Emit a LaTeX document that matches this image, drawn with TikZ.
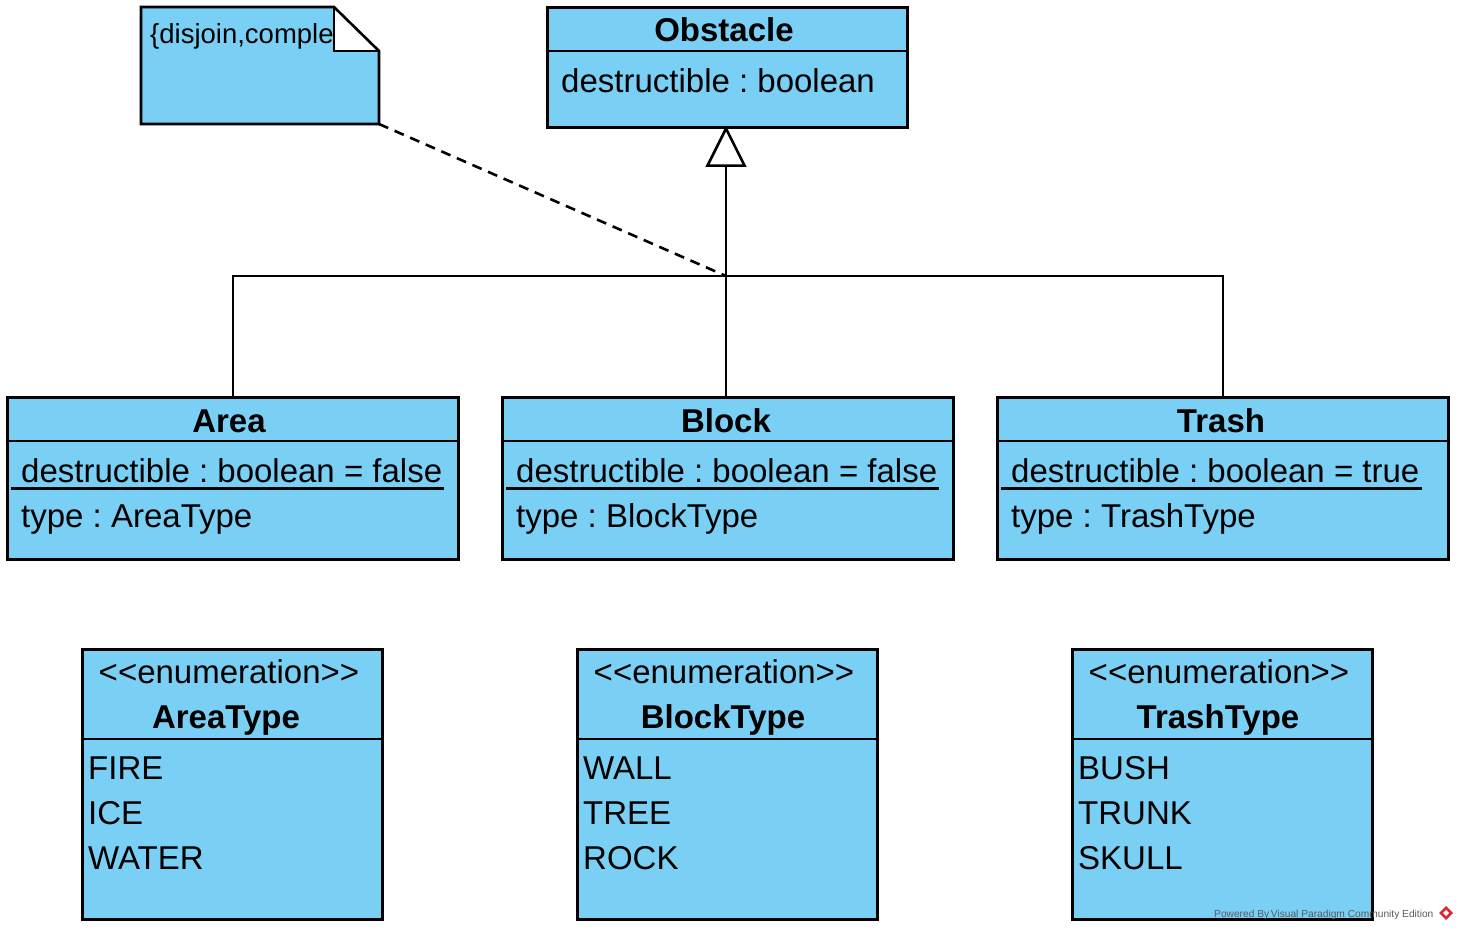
\documentclass[tikz,border=0pt]{standalone}
\usepackage{fontspec}
\setmainfont{Liberation Sans}
\definecolor{vpblue}{RGB}{122,207,245}
\definecolor{wmgray}{RGB}{90,90,90}
\definecolor{wmred}{RGB}{220,40,50}
\tikzset{
  box/.style={draw=black, fill=vpblue, line width=2.6pt, rectangle, inner sep=0pt, anchor=north west},
  sep/.style={line width=2.6pt},
  title/.style={inner sep=0pt, anchor=base, font=\fontsize{33}{38}\selectfont\bfseries},
  txt/.style={inner sep=0pt, anchor=base west, font=\fontsize{33}{38}\selectfont},
  ctxt/.style={inner sep=0pt, anchor=base, font=\fontsize{33}{38}\selectfont},
  conn/.style={line width=2.6pt},
  uline/.style={line width=2.2pt},
}
\begin{document}
\frenchspacing
\begin{tikzpicture}[x=1pt, y=-1pt]
\useasboundingbox (0,0) rectangle (1458,930);

% ---------- Note ----------
\coordinate (notecorner) at (379,124);
\fill[vpblue] (141,7) -- (334,7) -- (379,51) -- (379,124) -- (141,124) -- cycle;
\begin{scope}
  \clip (141,7) rectangle (334,124);
  \node[inner sep=0pt, anchor=base west, font=\fontsize{27.5}{30}\selectfont] (notetext) at (150,43) {\{disjoin,complete\}};
\end{scope}
\fill[white] (334,7) -- (379,51) -- (334,51) -- cycle;
\draw[line width=2.6pt, line join=miter] (141,7) -- (334,7) -- (379,51) -- (379,124) -- (141,124) -- cycle;
\draw[line width=2.6pt] (334,7) -- (334,51) -- (379,51);

% ---------- Obstacle ----------
\node[box, minimum width=360pt, minimum height=120pt] (obstacle) at (546,6) {};
\draw[sep] (546,51) -- (906,51);
\node[title] (obstacleT) at (724,41) {Obstacle};
\node[txt] (obstacleA) at (561,92) {destructible : boolean};

% ---------- Subclasses ----------
\node[box, minimum width=451pt, minimum height=162pt] (area) at (6,396) {};
\draw[sep] (6,441) -- (457,441);
\node[title] (areaT) at (229,432) {Area};
\node[txt] (areaA1) at (21,482) {destructible : boolean = false};
\draw[uline] ([xshift=-10pt,yshift=-6.5pt]areaA1.base west) -- ([xshift=2pt,yshift=-6.5pt]areaA1.base east);
\node[txt] (areaA2) at (21,527) {type : AreaType};

\node[box, minimum width=451pt, minimum height=162pt] (block) at (501,396) {};
\draw[sep] (501,441) -- (952,441);
\node[title] (blockT) at (726,432) {Block};
\node[txt] (blockA1) at (516,482) {destructible : boolean = false};
\draw[uline] ([xshift=-10pt,yshift=-6.5pt]blockA1.base west) -- ([xshift=2pt,yshift=-6.5pt]blockA1.base east);
\node[txt] (blockA2) at (516,527) {type : BlockType};

\node[box, minimum width=451pt, minimum height=162pt] (trash) at (996,396) {};
\draw[sep] (996,441) -- (1447,441);
\node[title] (trashT) at (1221,432) {Trash};
\node[txt] (trashA1) at (1011,482) {destructible : boolean = true};
\draw[uline] ([xshift=-10pt,yshift=-6.5pt]trashA1.base west) -- ([xshift=2pt,yshift=-6.5pt]trashA1.base east);
\node[txt] (trashA2) at (1011,527) {type : TrashType};

% ---------- Generalization ----------
\coordinate (hub) at (726,276);
\coordinate (tribase) at (726,165);
\draw[conn] (area.north) |- (hub);
\draw[conn] (trash.north) |- (hub);
\draw[conn] (block.north -| hub) -- (hub) -- (tribase);
\draw[line width=2.6pt, fill=white, line join=miter] (obstacle.south -| hub) -- ++(18.5,37) -- ++(-37,0) -- cycle;

\draw[line width=2.6pt, dash pattern=on 10pt off 7pt] (notecorner) -- (hub);

% ---------- Enumerations ----------
\node[box, minimum width=300pt, minimum height=270pt] (areaType) at (81,648) {};
\draw[sep] (81,739) -- (381,739);
\node[ctxt] (areaTypeS) at (229,683) {<{}<enumeration>{}>};
\node[title] (areaTypeT) at (226,728) {AreaType};
\node[txt] (fire) at (88,779) {FIRE};
\node[txt] (ice) at (88,824) {ICE};
\node[txt] (water) at (88,869) {WATER};

\node[box, minimum width=300pt, minimum height=270pt] (blockType) at (576,648) {};
\draw[sep] (576,739) -- (876,739);
\node[ctxt] (blockTypeS) at (724,683) {<{}<enumeration>{}>};
\node[title] (blockTypeT) at (723,728) {BlockType};
\node[txt] (wall) at (583,779) {WALL};
\node[txt] (tree) at (583,824) {TREE};
\node[txt] (rock) at (583,869) {ROCK};

\node[box, minimum width=300pt, minimum height=270pt] (trashType) at (1071,648) {};
\draw[sep] (1071,739) -- (1371,739);
\node[ctxt] (trashTypeS) at (1219,683) {<{}<enumeration>{}>};
\node[title] (trashTypeT) at (1218,728) {TrashType};
\node[txt] (bush) at (1078,779) {BUSH};
\node[txt] (trunk) at (1078,824) {TRUNK};
\node[txt] (skull) at (1078,869) {SKULL};

% ---------- Watermark ----------
\node[inner sep=0pt, anchor=base west, font=\fontsize{10.2}{12}\selectfont, text=wmgray] (wm) at (1214,917) {Powered By\,Visual Paradigm Community Edition};
\fill[wmred] (1446,906) -- (1453,913) -- (1446,920) -- (1439,913) -- cycle;
\fill[white] (1446,910) -- (1449,913) -- (1446,916) -- (1443,913) -- cycle;
\end{tikzpicture}
\end{document}
